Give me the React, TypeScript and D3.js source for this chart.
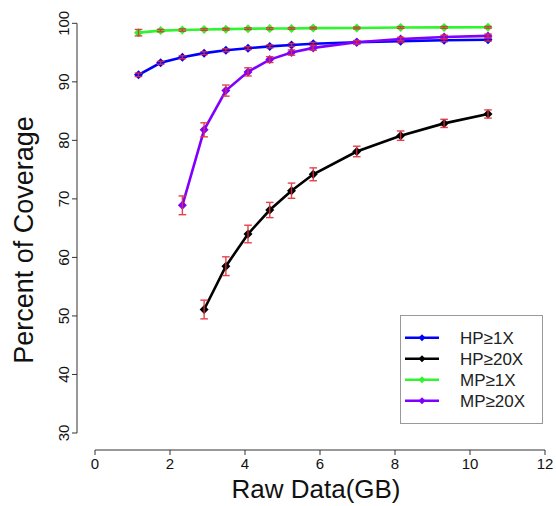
import React from "react";
import * as d3 from "d3";

const xValues = [1.16, 1.75, 2.33, 2.91, 3.49, 4.08, 4.66, 5.24, 5.82, 6.98, 8.15, 9.31, 10.48];

const hp1 = [91.2, 93.25, 94.2, 94.9, 95.4, 95.75, 96.05, 96.3, 96.5, 96.75, 96.95, 97.1, 97.2];
const hp1Err = [0.3, 0.25, 0.25, 0.25, 0.25, 0.25, 0.25, 0.25, 0.25, 0.25, 0.25, 0.25, 0.25];

const hp20 = [null, null, null, 51.1, 58.5, 64.0, 68.1, 71.4, 74.2, 78.1, 80.8, 82.9, 84.5];
const hp20Err = [0, 0, 0, 1.6, 1.6, 1.5, 1.3, 1.3, 1.1, 0.9, 0.8, 0.7, 0.7];

const mp1 = [98.4, 98.75, 98.85, 98.95, 99.0, 99.08, 99.1, 99.12, 99.18, 99.2, 99.28, 99.3, 99.32];
const mp1Err = [0.55, 0.2, 0.2, 0.15, 0.15, 0.15, 0.15, 0.15, 0.15, 0.15, 0.15, 0.15, 0.15];

const mp20 = [null, null, 68.9, 81.8, 88.5, 91.7, 93.8, 95.0, 95.8, 96.75, 97.3, 97.65, 97.85];
const mp20Err = [0, 0, 1.6, 1.2, 0.95, 0.7, 0.5, 0.45, 0.4, 0.3, 0.3, 0.3, 0.3];

const seriesNames = ["HP≥1X", "HP≥20X", "MP≥1X", "MP≥20X"];
const seriesColors = ["#0000ff", "#000000", "#2ef52e", "#8000ff"];
const seriesData = [hp1, hp20, mp1, mp20];
const seriesErr = [hp1Err, hp20Err, mp1Err, mp20Err];

const xTicks = [0, 2, 4, 6, 8, 10, 12];
const yTicks = [30, 40, 50, 60, 70, 80, 90, 100];

const W = 556;
const H = 506;
const FONT = "'Liberation Sans', Arial, Helvetica, sans-serif";
const ERR_COLOR = "#e03038";

export default function App() {
  const x = d3.scaleLinear().domain([0, 12]).range([95, 545]);
  const y = d3.scaleLinear().domain([30, 100]).range([433, 23.3]);
  const line = d3
    .line<[number, number | null]>()
    .defined((d) => d[1] != null)
    .x((d) => x(d[0]))
    .y((d) => y(d[1] as number));

  const diamond = (cx: number, cy: number, r: number) =>
    `M${cx},${cy - r}L${cx + r},${cy}L${cx},${cy + r}L${cx - r},${cy}Z`;

  const axisY = 450;
  const axisX = 77;

  return (
    <svg
      width={W}
      height={H}
      style={{ position: "absolute", left: 0, top: 0, background: "#fff" }}
      fontFamily={FONT}
    >
      <rect width={W} height={H} fill="#fff" />
      {seriesData.map((vals, si) => {
        const pts = xValues.map((xv, i) => [xv, vals[i]] as [number, number | null]);
        const err = seriesErr[si];
        return (
          <g key={si}>
            <path d={line(pts) || ""} fill="none" stroke={seriesColors[si]} strokeWidth={2.6} />
            {pts.map((p, i) =>
              p[1] == null ? null : (
                <path key={"m" + i} d={diamond(x(p[0]), y(p[1]), 4.5)} fill={seriesColors[si]} />
              )
            )}
            {pts.map((p, i) => {
              if (p[1] == null) return null;
              const cx = x(p[0]);
              const y1 = y(p[1] + err[i]);
              const y2 = y(p[1] - err[i]);
              return (
                <g key={"e" + i} stroke={ERR_COLOR} strokeWidth={1.4} opacity={0.9}>
                  <line x1={cx} x2={cx} y1={y1} y2={y2} />
                  <line x1={cx - 3.8} x2={cx + 3.8} y1={y1} y2={y1} />
                  <line x1={cx - 3.8} x2={cx + 3.8} y1={y2} y2={y2} />
                </g>
              );
            })}
          </g>
        );
      })}

      <g stroke="#333" strokeWidth={1}>
        <line x1={x(0)} x2={x(12)} y1={axisY} y2={axisY} />
        {xTicks.map((t) => (
          <line key={t} x1={x(t)} x2={x(t)} y1={axisY} y2={axisY + 5} />
        ))}
      </g>
      {xTicks.map((t) => (
        <text key={t} x={x(t)} y={469} textAnchor="middle" fontSize={15} fill="#111">
          {t}
        </text>
      ))}
      <text x={316} y={498} textAnchor="middle" fontSize={26} fill="#111">
        Raw Data(GB)
      </text>

      <g stroke="#333" strokeWidth={1}>
        <line x1={axisX} x2={axisX} y1={y(30)} y2={y(100)} />
        {yTicks.map((t) => (
          <line key={t} x1={axisX - 5} x2={axisX} y1={y(t)} y2={y(t)} />
        ))}
      </g>
      {yTicks.map((t) => (
        <text
          key={t}
          transform={`translate(69,${y(t)}) rotate(-90)`}
          textAnchor="middle"
          fontSize={15}
          fill="#111"
        >
          {t}
        </text>
      ))}
      <text
        transform={`translate(32.5,240) rotate(-90)`}
        textAnchor="middle"
        fontSize={27}
        fill="#111"
      >
        Percent of Coverage
      </text>

      <rect x={400.5} y={315.5} width={142} height={108} fill="#fff" stroke="#999" strokeWidth={1} />
      {seriesNames.map((name, i) => {
        const ly = 337.7 + i * 21;
        return (
          <g key={name}>
            <line x1={405} x2={439} y1={ly} y2={ly} stroke={seriesColors[i]} strokeWidth={2.6} />
            <path d={diamond(422, ly, 3.5)} fill={seriesColors[i]} />
            <text x={460} y={ly + 6} fontSize={17} fill="#222">
              {name}
            </text>
          </g>
        );
      })}
    </svg>
  );
}
